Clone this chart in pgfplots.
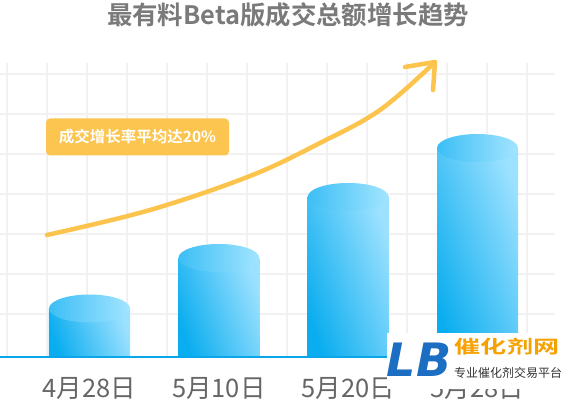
\documentclass[border=0pt]{standalone}
\usepackage{fontspec}
\setmainfont{Noto Sans CJK SC}[BoldFont={Noto Sans CJK SC Bold}]
\newfontfamily\logofont{DejaVu Sans}
\usepackage{graphicx}
\usepackage{pgfplots}
\pgfplotsset{compat=1.18}
\usetikzlibrary{shapes.geometric}
\definecolor{barL}{HTML}{0AADEF}
\definecolor{barR}{HTML}{9CE1FF}
\definecolor{topL}{HTML}{3CBEF5}
\definecolor{topR}{HTML}{A3E5FF}
\definecolor{gridc}{HTML}{F1F1F1}
\definecolor{baseblue}{HTML}{0BA6E9}
\definecolor{arrowc}{HTML}{FCC44C}
\definecolor{boxc}{HTML}{FCC54F}
\definecolor{titlec}{HTML}{7A7A7A}
\definecolor{labelc}{HTML}{666666}
\definecolor{orangec}{HTML}{F5A100}
\definecolor{logoc}{HTML}{1B6EC2}
\pgfplotsset{
  cylbody/.style={ybar, bar width=81pt, bar shift=0pt, draw=none, left color=barL, right color=barR, shading angle=110},
}
\begin{document}
\begin{tikzpicture}
\path[use as bounding box] (0,0) rectangle (577pt,399pt);
\fill[white] (0,0) rectangle (577pt,399pt);
% grid (decoration, in pixel coordinates)
\begin{scope}[x=1pt, y=-1pt, yshift=399pt]
  \foreach \gx in {7,47,...,527} \draw[gridc, line width=1.5pt] (\gx,63) -- (\gx,357);
  \foreach \gy in {74,114,...,314} \draw[gridc, line width=1.5pt] (0,\gy) -- (555,\gy);
\end{scope}
\begin{axis}[
  at={(0,0)}, anchor=south west,
  scale only axis, width=577pt, height=399pt,
  xmin=-0.692, xmax=3.7694, ymin=-42, ymax=357,
  enlargelimits=false,
  axis line style={draw=none}, tick style={draw=none},
  ytick=\empty,
  xtick={0,1,2,3},
  xticklabels={4月28日,5月10日,5月20日,5月28日},
  xticklabel style={font=\fontsize{25.5}{30}\selectfont, text=labelc, anchor=center, yshift=11pt},
]
\addplot[cylbody] coordinates {(0,48.5)};
\addplot[cylbody] coordinates {(1,99)};
\addplot[cylbody] coordinates {(2,160)};
\addplot[cylbody] coordinates {(3,209)};
\addplot[draw=none, mark=none, nodes near coords={},
  every node near coord/.append style={ellipse, minimum width=81pt, minimum height=28pt,
    inner sep=0pt, left color=topL, right color=topR, draw=none, anchor=center}]
  coordinates {(0,48.5) (1,99) (2,160) (3,209)};
\end{axis}
\begin{scope}[x=1pt, y=-1pt, yshift=399pt]
  \draw[baseblue, line width=2pt] (0,357.3) -- (577,357.3);
  % arrow
  \draw[arrowc, line width=4.5pt, line cap=round, line join=round]
    plot[smooth, tension=0.6] coordinates {(47,235) (150,210) (250,176) (320,143) (380,110) (434,63)};
  \draw[arrowc, line width=4.5pt, line cap=round, line join=round] (405,67) -- (435,62) -- (433,90);
  % label box
  \node[fill=boxc, rounded corners=4pt, minimum width=183pt, minimum height=37pt, inner sep=0pt,
        text=white, font=\bfseries\fontsize{15.5}{18}\selectfont] at (137.5,137) {成交增长率平均达20\%};
  % title
  \node[text=titlec, font=\bfseries\fontsize{25.4}{30}\selectfont] at (288,15) {最有料Beta版成交总额增长趋势};
  % watermark
  \fill[white] (387,333) rectangle (577,389);
  \node[text=logoc, font=\logofont\bfseries\itshape\fontsize{46}{46}\selectfont] at (419,360) {LB};
  \node[text=orangec, font=\bfseries\fontsize{18}{20}\selectfont] at (507,347) {\scalebox{1.45}[1]{催化剂网}};
  \node[text=black!80, font=\fontsize{12}{14}\selectfont] at (508,373) {专业催化剂交易平台};
\end{scope}
\end{tikzpicture}
\end{document}
